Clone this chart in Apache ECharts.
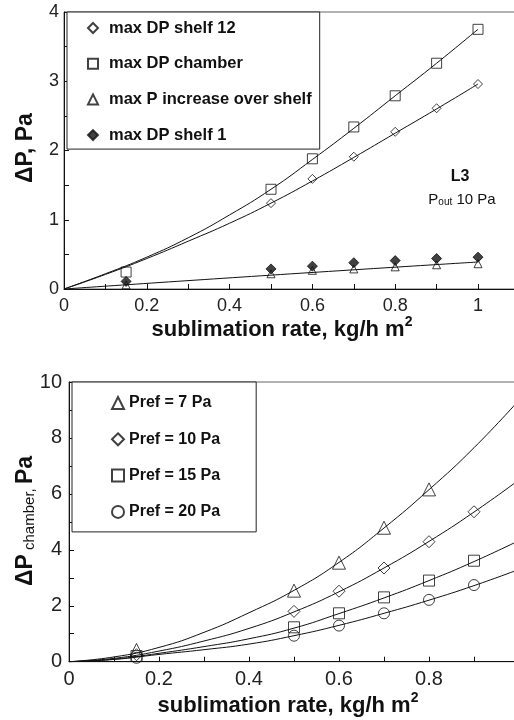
<!DOCTYPE html>
<html>
<head>
<meta charset="utf-8">
<script src="https://cdn.jsdelivr.net/npm/echarts@6/dist/echarts.min.js"></script>
<style>html,body{margin:0;padding:0;background:#fff;}#c{width:514px;height:720px;}</style>
</head>
<body>
<div id="c"></div>
<script>
// ---- Top chart data ----
const topX = [0.15, 0.5, 0.6, 0.7, 0.8, 0.9, 1.0];
const shelf12X = [0.5, 0.6, 0.7, 0.8, 0.9, 1.0];
const shelf12 = [1.24, 1.59, 1.91, 2.27, 2.61, 2.96];
const chamber = [0.245, 1.44, 1.88, 2.34, 2.79, 3.26, 3.75];
const pIncrease = [0.06, 0.22, 0.27, 0.29, 0.32, 0.35, 0.365];
const shelf1 = [0.11, 0.29, 0.33, 0.38, 0.41, 0.44, 0.46];
const topFitX = [0, 0.1, 0.2, 0.3, 0.4, 0.5, 0.6, 0.7, 0.8, 0.9, 1.0];
const chamberFit = [0, 0.22, 0.46, 0.74, 1.07, 1.44, 1.87, 2.32, 2.79, 3.26, 3.75];
const shelf12Fit = [0, 0.21, 0.44, 0.69, 0.95, 1.24, 1.56, 1.90, 2.25, 2.60, 2.96];
const lowFitX = [0, 0.5, 1.0];
const lowFit = [0, 0.2, 0.39];
const topNames = ['max DP shelf 12', 'max DP chamber', 'max P increase over shelf', 'max DP shelf 1'];

// ---- Bottom chart data ----
const botX = [0.15, 0.5, 0.6, 0.7, 0.8, 0.9];
const pref7X = [0.15, 0.5, 0.6, 0.7, 0.8];
const pref7 = [0.42, 2.54, 3.54, 4.79, 6.16];
const pref10 = [0.25, 1.80, 2.52, 3.35, 4.29, 5.36];
const pref15 = [0.20, 1.23, 1.73, 2.30, 2.90, 3.61];
const pref20 = [0.14, 0.93, 1.29, 1.73, 2.21, 2.74];
const botFitX = [0, 0.1, 0.2, 0.3, 0.4, 0.5, 0.6, 0.7, 0.8, 0.9, 1.0];
const fit7 = [0, 0.17, 0.51, 1.05, 1.75, 2.55, 3.55, 4.78, 6.15, 7.65, 9.35];
const fit10 = [0, 0.12, 0.38, 0.74, 1.19, 1.78, 2.50, 3.35, 4.30, 5.35, 6.50];
const fit15 = [0, 0.09, 0.30, 0.54, 0.82, 1.20, 1.72, 2.28, 2.90, 3.58, 4.33];
const fit20 = [0, 0.08, 0.26, 0.43, 0.63, 0.93, 1.30, 1.73, 2.20, 2.72, 3.30];
const botNames = ['Pref = 7 Pa', 'Pref = 10 Pa', 'Pref = 15 Pa', 'Pref = 20 Pa'];

const FONT = '"Liberation Sans", Arial, sans-serif';
const zip = (xs, ys) => xs.map((x, i) => [x, ys[i]]);

function fitLine(name, xs, ys, idx) {
  return { name, type: 'line', xAxisIndex: idx, yAxisIndex: idx, data: zip(xs, ys), smooth: true,
    showSymbol: false, silent: true, lineStyle: { color: '#111', width: 1 }, z: 2 };
}
function marks(name, xs, ys, idx, symbol, size, filled) {
  return { name, type: 'scatter', xAxisIndex: idx, yAxisIndex: idx, data: zip(xs, ys), symbol, symbolSize: size,
    itemStyle: { color: filled ? '#111' : 'rgba(255,255,255,0)', borderColor: '#111', borderWidth: 1 }, z: 3 };
}
function xAxisCfg(gridIndex, max, fs) {
  return { type: 'value', gridIndex, min: 0, max, interval: 0.2,
    axisLine: { show: true, lineStyle: { color: '#111', width: 1 } },
    axisTick: { show: true, inside: true, length: 5, lineStyle: { color: '#111' } },
    minorTick: { show: true, splitNumber: 2, length: 5, lineStyle: { color: '#111' } },
    splitLine: { show: false }, minorSplitLine: { show: false },
    axisLabel: { fontFamily: FONT, fontSize: fs, color: '#222', margin: 8, showMaxLabel: false,
      formatter: v => String(+v.toFixed(1)) } };
}
function yAxisCfg(gridIndex, max, interval, fs, margin) {
  return { type: 'value', gridIndex, min: 0, max, interval,
    axisLine: { show: true, lineStyle: { color: '#111', width: 1 } },
    axisTick: { show: true, inside: true, length: 5, lineStyle: { color: '#111' } },
    minorTick: { show: true, splitNumber: 2, length: 5, lineStyle: { color: '#111' } },
    splitLine: { show: false }, minorSplitLine: { show: false },
    axisLabel: { fontFamily: FONT, fontSize: fs, color: '#222', margin } };
}
const titleRich = {
  a: { fontFamily: FONT, fontSize: 22, fontWeight: 'bold', fill: '#111', lineHeight: 30 },
  s: { fontFamily: FONT, fontSize: 14, fontWeight: 'bold', fill: '#111', verticalAlign: 'top' }
};

const chart = echarts.init(document.getElementById('c'), null, { renderer: 'canvas' });
chart.setOption({
  animation: false,
  backgroundColor: '#fff',
  grid: [
    { left: 64, top: 12, width: 496.8, height: 277, outerBoundsMode: 'none', containLabel: false,
      show: true, borderColor: '#666', borderWidth: 1, backgroundColor: 'transparent' },
    { left: 69, top: 382, width: 450, height: 279.7, outerBoundsMode: 'none', containLabel: false,
      show: true, borderColor: '#666', borderWidth: 1, backgroundColor: 'transparent' }
  ],
  xAxis: [xAxisCfg(0, 1.2, 18), xAxisCfg(1, 1.0, 20)],
  yAxis: [yAxisCfg(0, 4, 1, 18, 5), yAxisCfg(1, 10, 2, 20, 7)],
  legend: [
    { data: topNames, orient: 'vertical', left: 67, top: 12, itemWidth: 10, itemHeight: 10, itemGap: 15.7,
      padding: [6, 8, 4, 20], borderColor: '#222', borderWidth: 1, backgroundColor: '#fff',
      selectedMode: false,
      textStyle: { fontFamily: FONT, fontSize: 16.5, fontWeight: 'bold', color: '#111', lineHeight: 20, padding: [0, 0, 0, 6] } },
    { data: botNames, orient: 'vertical', left: 72, top: 382, itemWidth: 12, itemHeight: 12, itemGap: 16.3,
      padding: [11, 36, 10, 39], borderColor: '#222', borderWidth: 1, backgroundColor: '#fff',
      selectedMode: false,
      textStyle: { fontFamily: FONT, fontSize: 16, fontWeight: 'bold', color: '#111', lineHeight: 20 } }
  ],
  graphic: [
    { type: 'text', x: 282, y: 330, style: { text: '{a|sublimation rate, kg/h m}{s|2}', align: 'center', verticalAlign: 'middle', rich: titleRich } },
    { type: 'text', x: 288, y: 706, style: { text: '{a|sublimation rate, kg/h m}{s|2}', align: 'center', verticalAlign: 'middle', rich: titleRich } },
    { type: 'text', x: 26, y: 148, rotation: Math.PI / 2, style: { text: 'ΔP, Pa', align: 'center', verticalAlign: 'middle',
      fontFamily: FONT, fontSize: 23, fontWeight: 'bold', fill: '#111' } },
    { type: 'text', x: 26, y: 521, rotation: Math.PI / 2, style: { text: '{a|ΔP}{b| chamber, }{a|Pa}', align: 'center', verticalAlign: 'middle',
      rich: { a: { fontFamily: FONT, fontSize: 23, fontWeight: 'bold', fill: '#111' },
              b: { fontFamily: FONT, fontSize: 15, fill: '#111', verticalAlign: 'bottom' } } } },
    { type: 'text', x: 460, y: 177, style: { text: 'L3', align: 'center', verticalAlign: 'middle',
      fontFamily: FONT, fontSize: 16, fontWeight: 'bold', fill: '#111' } },
    { type: 'text', x: 462, y: 200, style: { text: '{p|P}{s|out}{p| 10 Pa}', align: 'center', verticalAlign: 'middle',
      rich: { p: { fontFamily: FONT, fontSize: 15, fill: '#111' },
              s: { fontFamily: FONT, fontSize: 10, fill: '#111', verticalAlign: 'bottom' } } } }
  ],
  series: [
    fitLine('fit chamber', topFitX, chamberFit, 0),
    fitLine('fit shelf 12', topFitX, shelf12Fit, 0),
    fitLine('fit low', lowFitX, lowFit, 0),
    marks(topNames[0], shelf12X, shelf12, 0, 'diamond', 9, false),
    marks(topNames[1], topX, chamber, 0, 'rect', 10, false),
    marks(topNames[2], topX, pIncrease, 0, 'triangle', 8, false),
    marks(topNames[3], topX, shelf1, 0, 'diamond', 10, true),
    fitLine('fit 7', botFitX, fit7, 1),
    fitLine('fit 10', botFitX, fit10, 1),
    fitLine('fit 15', botFitX, fit15, 1),
    fitLine('fit 20', botFitX, fit20, 1),
    marks(botNames[0], pref7X, pref7, 1, 'triangle', 13, false),
    marks(botNames[1], botX, pref10, 1, 'diamond', 12, false),
    marks(botNames[2], botX, pref15, 1, 'rect', 11, false),
    marks(botNames[3], botX, pref20, 1, 'circle', 11, false)
  ]
});
</script>
</body>
</html>
